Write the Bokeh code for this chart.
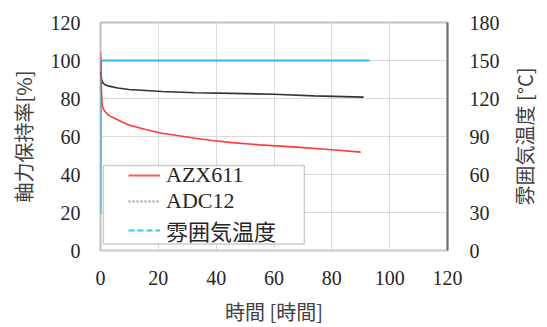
import math
from bokeh.plotting import figure
from bokeh.models import (Range1d, LinearAxis, LegendItem, Legend, BoxAnnotation,
                          FixedTicker, ColumnDataSource, Label)
from bokeh.embed import file_html
from bokeh.resources import INLINE

# ---- data ----
t_azx = [0, 0.3, 0.6, 1.0, 1.7, 3.0, 5.2, 7.5, 9.8, 15.6, 21.3, 27.1, 32.8, 38.6, 45.5, 55, 68, 80, 90]
azx611 = [104.4, 85, 76.3, 74.5, 72.8, 71.0, 69.3, 67.6, 66.1, 63.7, 61.7, 60.4, 59.1, 57.9, 56.8, 55.6, 54.4, 53.0, 51.8]

t_adc = [0, 0.3, 0.6, 1.5, 2.9, 6.0, 9.8, 21.3, 32.8, 45.5, 59.9, 73.8, 91]
adc12 = [94.0, 91.0, 88.6, 87.3, 86.5, 85.5, 84.7, 83.7, 83.0, 82.7, 82.2, 81.4, 80.7]

t_temp = [0, 0.15, 93]
temp = [29, 150, 150]

x_ticks = [0, 20, 40, 60, 80, 100, 120]
y_ticks = [0, 20, 40, 60, 80, 100, 120]
y2_ticks = [0, 30, 60, 90, 120, 150, 180]

labels = ["AZX611", "ADC12", "雰囲気温度"]
x_title = "時間 [時間]"
y_title = "軸力保持率[%]"
y2_title = "雰囲気温度 [°C]"

SERIF = "Liberation Serif"
LEG_FONT = "'Liberation Serif', 'Noto Sans CJK JP'"
JP = "Noto Sans CJK JP"

p = figure(output_backend="svg", toolbar_location=None,
           frame_width=347, frame_height=228,
           min_border_left=100, min_border_right=97, min_border_top=22, min_border_bottom=70,
           x_range=Range1d(0, 120), y_range=Range1d(0, 120))
p.extra_y_ranges = {"temp": Range1d(0, 180)}
p.background_fill_color = "white"
p.border_fill_color = "white"
p.outline_line_color = "#c0c0c0"
p.outline_line_width = 2

# grid
p.xgrid.ticker = FixedTicker(ticks=x_ticks)
p.ygrid.ticker = FixedTicker(ticks=y_ticks)
p.xgrid.grid_line_color = "#dcdcdc"
p.ygrid.grid_line_color = "#dcdcdc"

def style_axis(ax):
    ax.major_tick_line_color = None
    ax.minor_tick_line_color = None
    ax.major_tick_out = 0
    ax.major_tick_in = 0
    ax.major_label_text_font = SERIF
    ax.major_label_text_font_size = "20px"
    ax.major_label_text_color = "#262626"
    ax.axis_label_text_font = JP
    ax.axis_label_text_font_size = "20px"
    ax.axis_label_text_font_style = "normal"
    ax.axis_label_text_color = "#404040"

xa = p.xaxis[0]
xa.ticker = FixedTicker(ticks=x_ticks)
style_axis(xa)
xa.axis_line_color = "#d0d0d0"
xa.major_label_standoff = 20
xa.axis_label = x_title
xa.axis_label_standoff = 9

ya = p.yaxis[0]
ya.ticker = FixedTicker(ticks=y_ticks)
style_axis(ya)
ya.axis_line_color = None
ya.major_label_standoff = 20
ya.axis_label = y_title
ya.axis_label_standoff = 10

ya2 = LinearAxis(y_range_name="temp", ticker=FixedTicker(ticks=y2_ticks))
style_axis(ya2)
ya2.axis_line_color = "#6e6e6e"
ya2.axis_line_width = 2
ya2.major_label_standoff = 22
p.add_layout(ya2, "right")

# right-axis title, reading bottom-to-top like the reference (placed in the right panel)
p.add_layout(Label(x=22, y=114, x_units="screen", y_units="screen", text=y2_title,
                   angle=90, angle_units="deg",
                   text_align="center", text_baseline="middle",
                   text_font=JP, text_font_size="20px", text_color="#404040"), "right")

# series
p.line(t_temp, temp, y_range_name="temp", line_color="#2fb6ea", line_width=2)
p.line(t_adc, adc12, line_color="#333333", line_width=1.6)
p.line(t_azx, azx611, line_color="#ff3b3b", line_width=1.6)

# legend frame
p.add_layout(BoxAnnotation(left=1.0, right=70.5, bottom=3.4, top=44.7,
                           fill_color="white", fill_alpha=1.0,
                           line_color="#595959", line_width=1.5))

# legend glyph renderers (no visible data, styled like the reference legend)
nan = float("nan")
empty = ColumnDataSource(data=dict(x=[nan], y=[nan]))
r1 = p.line("x", "y", source=empty, line_color="#ff5a5a", line_width=2)
r2 = p.line("x", "y", source=empty, line_color="#a0a0a0", line_width=2, line_dash="2 2")
r3 = p.line("x", "y", source=empty, line_color="#45c0f0", line_width=2, line_dash="6 3")

legend = Legend(items=[LegendItem(label=labels[0], renderers=[r1]),
                       LegendItem(label=labels[1], renderers=[r2]),
                       LegendItem(label=labels[2], renderers=[r3])],
                location=(28, 4), orientation="vertical",
                padding=3, margin=0, spacing=0,
                glyph_width=32, glyph_height=20, label_height=20, label_standoff=6,
                border_line_color=None, background_fill_alpha=0,
                label_text_font=LEG_FONT, label_text_font_size="22px",
                label_text_color="#262626")
p.add_layout(legend, "center")

open("out.html", "w").write(file_html(p, INLINE))
